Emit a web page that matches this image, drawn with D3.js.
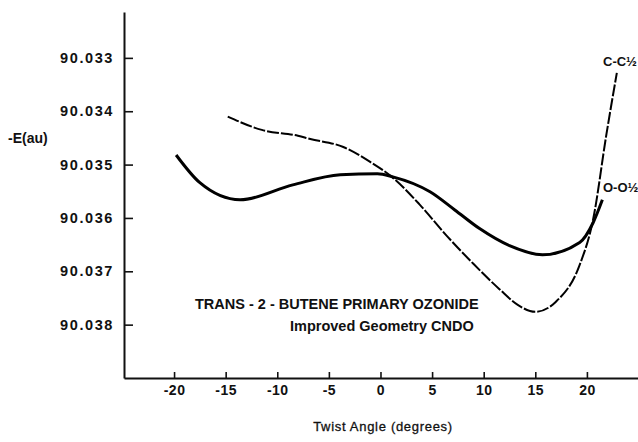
<!DOCTYPE html>
<html lang="en">
<head>
  <meta charset="UTF-8">
  <title>Trans-2-butene primary ozonide</title>
  <script src="https://cdn.jsdelivr.net/npm/d3@7"></script>
  <style>
    body { margin: 0; background: #fff; }
    text { font-family: "Liberation Sans", Arial, sans-serif; fill: #111; }
  </style>
</head>
<body>
<div id="chart"></div>
<script>
// O-O½ twist (solid line)
let ooAngle = [ -19.8, -17.5, -13.6, -8.5, -3.9, -0.3, 1.2, 4.8, 7.2, 9.6, 12.5, 15.7, 19.3, 20.6, 21.5 ];
let ooEnergy = [ 90.03482, 90.03534, 90.03566, 90.03538, 90.03519, 90.03517, 90.03523, 90.03551, 90.03585, 90.0362, 90.03652, 90.03669, 90.03646, 90.03609, 90.03566 ];

// C-C½ twist (dashed line)
let ccAngle = [ -14.8, -11.5, -8.0, -6.8, -3.6, -1.0, 1.1, 3.8, 6.4, 9.0, 11.5, 13.3, 15.0, 17.0, 19.3, 20.6, 21.9, 22.9 ];
let ccEnergy = [ 90.0341, 90.03435, 90.03446, 90.03452, 90.03467, 90.03495, 90.03523, 90.03575, 90.03633, 90.03686, 90.03733, 90.03763, 90.03776, 90.03757, 90.03688, 90.03603, 90.03442, 90.03328 ];

let xTicks = [ -20, -15, -10, -5, 0, 5, 10, 15, 20 ];
let yTicks = [ 90.033, 90.034, 90.035, 90.036, 90.037, 90.038 ];

let margin = { top: 12, right: 0, bottom: 64, left: 124 };
let width = 638 - margin.left - margin.right;
let height = 442 - margin.top - margin.bottom;

let svg = d3.select("#chart").append("svg")
.attr("width", 638)
.attr("height", 442);

let chart = svg.append("g")
.attr("transform", `translate(${margin.left},${margin.top})`);

let xScale = d3.scaleLinear()
.domain([ -24.85, 24.95 ])
.range([ 0, width ]);

let yScale = d3.scaleLinear()
.domain([ 90.03214, 90.039 ])
.range([ 0, height ]);

let xAxis = d3.axisBottom(xScale)
.tickValues(xTicks)
.tickSize(-6)
.tickSizeOuter(0)
.tickPadding(7)
.tickFormat(d => d);

let yAxis = d3.axisLeft(yScale)
.tickValues(yTicks)
.tickSize(-9)
.tickSizeOuter(0)
.tickPadding(10)
.tickFormat(d3.format(".3f"));

let xAxisG = chart.append("g")
.attr("transform", `translate(0,${height})`)
.call(xAxis);

let yAxisG = chart.append("g")
.call(yAxis);

[ xAxisG, yAxisG ].forEach(g => {
  g.select(".domain").attr("stroke", "#111").attr("stroke-width", 2);
  g.selectAll(".tick line").attr("stroke", "#111").attr("stroke-width", 1.6);
  g.selectAll(".tick text")
  .attr("font-family", "\"Liberation Sans\", Arial, sans-serif")
  .attr("font-weight", "bold")
  .attr("fill", "#111");
});

xAxisG.selectAll(".tick text")
.attr("font-size", 14)
.attr("letter-spacing", 0.5);

yAxisG.selectAll(".tick text")
.attr("font-size", 14.5)
.attr("letter-spacing", 1.6);

let line = d3.line()
.x(d => xScale(d[0]))
.y(d => yScale(d[1]))
.curve(d3.curveMonotoneX);

chart.append("path")
.datum(ooAngle.map((a, i) => [ a, ooEnergy[i] ]))
.attr("d", line)
.attr("fill", "none")
.attr("stroke", "#000")
.attr("stroke-width", 3);

chart.append("path")
.datum(ccAngle.map((a, i) => [ a, ccEnergy[i] ]))
.attr("d", line)
.attr("fill", "none")
.attr("stroke", "#000")
.attr("stroke-width", 2)
.attr("stroke-dasharray", "12,2");

svg.append("text")
.attr("x", 8)
.attr("y", 143)
.attr("font-size", 14)
.attr("font-weight", "bold")
.text("-E(au)");

svg.append("text")
.attr("x", 383)
.attr("y", 431)
.attr("text-anchor", "middle")
.attr("font-size", 13)
.attr("letter-spacing", 0.7)
.attr("stroke", "#111")
.attr("stroke-width", 0.3)
.text("Twist Angle (degrees)");

svg.append("text")
.attr("x", 603)
.attr("y", 66)
.attr("font-size", 13)
.attr("font-weight", "bold")
.text("C-C½");

svg.append("text")
.attr("x", 603)
.attr("y", 192)
.attr("font-size", 13)
.attr("font-weight", "bold")
.text("O-O½");

svg.append("text")
.attr("x", 195)
.attr("y", 309)
.attr("font-size", 14.5)
.attr("font-weight", "bold")
.text("TRANS - 2 - BUTENE PRIMARY OZONIDE");

svg.append("text")
.attr("x", 290)
.attr("y", 331)
.attr("font-size", 14.5)
.attr("font-weight", "bold")
.text("Improved Geometry CNDO");
</script>
</body>
</html>
